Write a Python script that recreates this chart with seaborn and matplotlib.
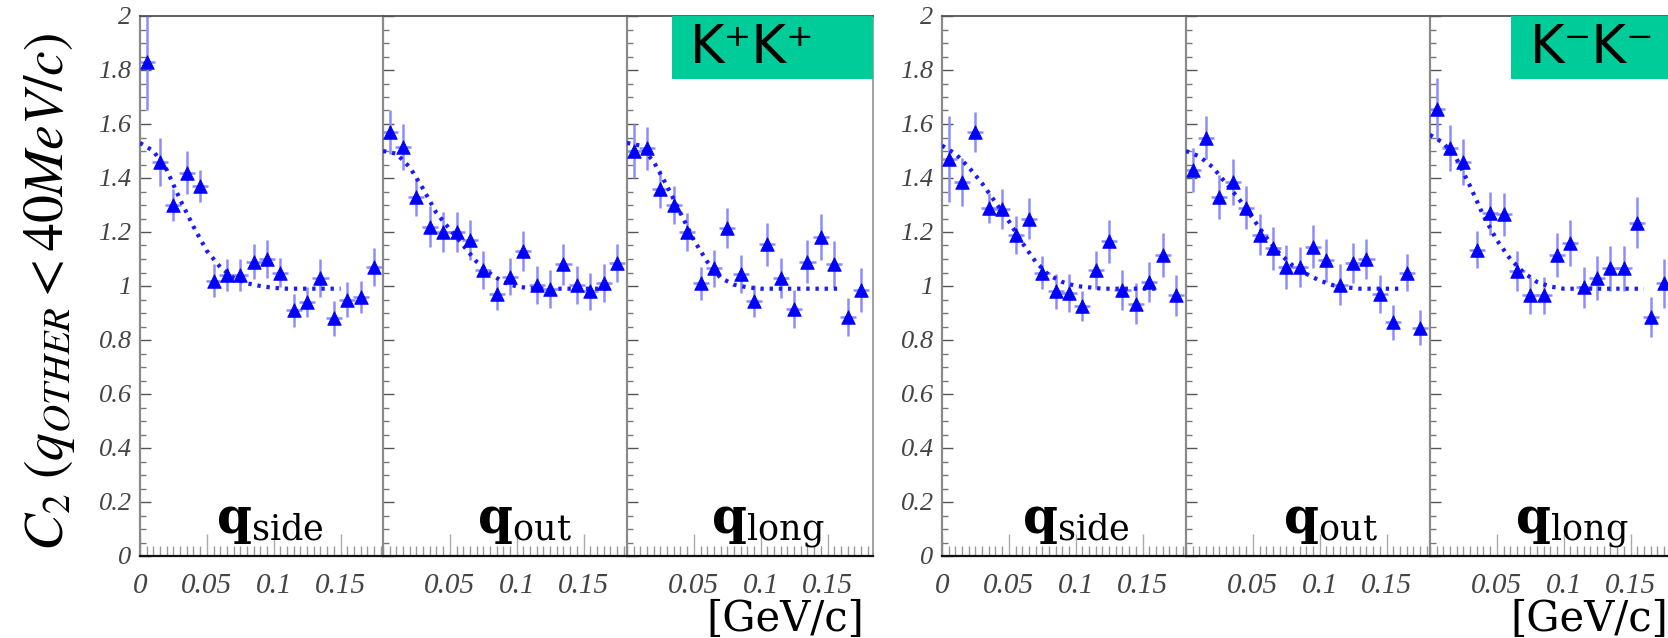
import matplotlib
matplotlib.use("Agg")
import matplotlib.pyplot as plt
import seaborn as sns
import pandas as pd
from matplotlib.patches import Rectangle
from matplotlib.ticker import MultipleLocator

sns.set_theme(style="white")
plt.rcParams["font.family"] = ["Liberation Serif", "DejaVu Serif"]

# ---------------- data ----------------
Q_BINS = [0.005, 0.015, 0.025, 0.035, 0.045, 0.055, 0.065, 0.075, 0.085,
          0.095, 0.105, 0.115, 0.125, 0.135, 0.145, 0.155, 0.165, 0.175]
FIT_Q = [0.00, 0.01, 0.02, 0.03, 0.04, 0.05, 0.06, 0.07, 0.08,
         0.09, 0.10, 0.11, 0.12, 0.13, 0.14, 0.15, 0.16, 0.17]

# K+K+
kp_side = [1.83, 1.46, 1.30, 1.42, 1.37, 1.02, 1.04, 1.04, 1.09,
           1.10, 1.05, 0.91, 0.94, 1.03, 0.88, 0.95, 0.96, 1.07]
kp_side_err = [0.18, 0.09, 0.06, 0.08, 0.06, 0.06, 0.06, 0.06, 0.065,
               0.07, 0.055, 0.06, 0.055, 0.07, 0.065, 0.065, 0.06, 0.07]
kp_side_fit = [1.53, 1.50, 1.43, 1.32, 1.22, 1.13, 1.07, 1.03, 1.01,
               1.00, 0.993, 0.99, 0.99, 0.99, 0.99, 0.99]

kp_out = [1.57, 1.515, 1.33, 1.22, 1.20, 1.20, 1.17, 1.06, 0.97,
          1.035, 1.13, 1.005, 0.99, 1.08, 1.005, 0.98, 1.01, 1.085]
kp_out_err = [0.08, 0.085, 0.07, 0.075, 0.075, 0.075, 0.075, 0.07, 0.06,
              0.07, 0.075, 0.07, 0.07, 0.075, 0.07, 0.07, 0.07, 0.07]
kp_out_fit = [1.50, 1.49, 1.44, 1.36, 1.27, 1.21, 1.15, 1.09, 1.047,
              1.014, 0.998, 0.992, 0.99, 0.99, 0.99, 0.99, 0.99, 0.99]

kp_long = [1.50, 1.51, 1.36, 1.30, 1.20, 1.01, 1.065, 1.215, 1.045,
           0.945, 1.155, 1.03, 0.915, 1.09, 1.18, 1.08, 0.885, 0.985]
kp_long_err = [0.10, 0.08, 0.07, 0.07, 0.07, 0.06, 0.07, 0.075, 0.07,
               0.06, 0.08, 0.075, 0.07, 0.08, 0.085, 0.085, 0.07, 0.08]
kp_long_fit = [1.53, 1.52, 1.46, 1.37, 1.27, 1.17, 1.09, 1.03, 1.005,
               0.995, 0.99, 0.99, 0.99, 0.99, 0.99, 0.99, 0.99]

# K-K-
km_side = [1.47, 1.385, 1.57, 1.29, 1.285, 1.19, 1.25, 1.05, 0.98,
           0.975, 0.925, 1.06, 1.165, 0.985, 0.935, 1.015, 1.115, 0.965]
km_side_err = [0.16, 0.09, 0.075, 0.055, 0.075, 0.07, 0.075, 0.06, 0.065,
               0.07, 0.055, 0.07, 0.08, 0.075, 0.075, 0.075, 0.08, 0.075]
km_side_fit = [1.52, 1.49, 1.44, 1.38, 1.31, 1.24, 1.16, 1.09, 1.04,
               1.015, 1.00, 0.995, 0.99, 0.99, 0.99, 0.99, 0.99]

km_out = [1.43, 1.55, 1.33, 1.385, 1.29, 1.19, 1.14, 1.07, 1.07,
          1.145, 1.095, 1.005, 1.085, 1.10, 0.97, 0.865, 1.05, 0.845]
km_out_err = [0.08, 0.08, 0.08, 0.085, 0.08, 0.075, 0.08, 0.08, 0.075,
              0.08, 0.08, 0.075, 0.075, 0.075, 0.07, 0.065, 0.07, 0.065]
km_out_fit = [1.50, 1.48, 1.44, 1.38, 1.32, 1.25, 1.18, 1.12, 1.075,
              1.045, 1.02, 1.003, 0.995, 0.99, 0.99, 0.99, 0.99]

km_long = [1.655, 1.51, 1.46, 1.135, 1.27, 1.265, 1.055, 0.965, 0.965,
           1.115, 1.16, 0.995, 1.03, 1.065, 1.065, 1.235, 0.885, 1.01]
km_long_err = [0.115, 0.085, 0.085, 0.07, 0.08, 0.08, 0.075, 0.07, 0.07,
               0.08, 0.085, 0.075, 0.08, 0.085, 0.085, 0.095, 0.075, 0.09]
km_long_fit = [1.56, 1.53, 1.47, 1.37, 1.26, 1.17, 1.10, 1.05, 1.015,
               0.998, 0.99, 0.99, 0.99, 0.99, 0.99, 0.99, 0.99]

COMPONENTS = ["side", "out", "long"]
GROUPS = ["K⁺K⁺", "K⁻K⁻"]
Y_TICKS = [0, 0.2, 0.4, 0.6, 0.8, 1, 1.2, 1.4, 1.6, 1.8, 2]

panels = [
    (kp_side, kp_side_err, kp_side_fit), (kp_out, kp_out_err, kp_out_fit),
    (kp_long, kp_long_err, kp_long_fit),
    (km_side, km_side_err, km_side_fit), (km_out, km_out_err, km_out_fit),
    (km_long, km_long_err, km_long_fit),
]

# ---------------- layout (pixels) ----------------
W, H = 1668, 638
TOP, BOT = 16, 556
PX_PER_UNIT = 1337.0
spans = [(140, 383), (383, 627), (627, 873), (942, 1186), (1186, 1430), (1430, 1674)]
label_x = [0.057, 0.070, 0.063, 0.060, 0.0725, 0.0636]

fig = plt.figure(figsize=(W / 100, H / 100), dpi=100)
fig.patch.set_facecolor("white")

MARK = "#0000ff"
ERR = "#8c8cff"
FIT = "#1a1aff"

for i, ((vals, errs, fit), (x0, x1)) in enumerate(zip(panels, spans)):
    ax = fig.add_axes([x0 / W, (H - BOT) / H, (x1 - x0) / W, (BOT - TOP) / H])
    ax.set_facecolor("none")
    first = (i % 3 == 0)
    last = (i % 3 == 2)

    ax.errorbar(Q_BINS, vals, yerr=errs, xerr=0.006, fmt="none", ecolor=ERR,
                elinewidth=1.8, capsize=0, zorder=2)
    fdf = pd.DataFrame({"q": FIT_Q[:len(fit)], "c2": fit})
    sns.lineplot(data=fdf, x="q", y="c2", ax=ax, color=FIT, lw=3.0,
                 linestyle=(0, (0.8, 1.4)), estimator=None, sort=False, zorder=3)
    ddf = pd.DataFrame({"q": Q_BINS, "c2": vals})
    sns.scatterplot(data=ddf, x="q", y="c2", ax=ax, marker="^", s=95,
                    color=MARK, edgecolor=MARK, linewidth=0.6, zorder=4)

    ax.set_xlim(0, (x1 - x0) / PX_PER_UNIT)
    ax.set_ylim(0, 2)
    ax.set_xlabel("")
    ax.set_ylabel("")

    # spines
    ax.spines["top"].set_color("#555555"); ax.spines["top"].set_linewidth(1.3)
    ax.spines["bottom"].set_color("#111111"); ax.spines["bottom"].set_linewidth(1.6)
    ax.spines["left"].set_color("#8a8a8a"); ax.spines["left"].set_linewidth(1.6)
    ax.spines["right"].set_visible(last)
    ax.spines["right"].set_color("#9a9a9a"); ax.spines["right"].set_linewidth(1.3)

    # y ticks
    ax.set_yticks(Y_TICKS, [f"{v:g}" for v in Y_TICKS], fontsize=19,
                  fontstyle="italic", color="#444444")
    ax.yaxis.set_minor_locator(MultipleLocator(0.05))
    ax.tick_params(axis="y", which="major", direction="in", length=8, width=1,
                   color="#555555", left=True, right=False, labelleft=first, pad=6)
    ax.tick_params(axis="y", which="minor", direction="in", length=4, width=1,
                   color="#777777", left=True, right=False)

    # x ticks
    xt = [0, 0.05, 0.1, 0.15] if first else [0.05, 0.1, 0.15]
    ax.set_xticks(xt, [f"{v:g}" for v in xt], fontsize=21,
                  fontstyle="italic", color="#444444")
    ax.xaxis.set_minor_locator(MultipleLocator(0.005))
    ax.tick_params(axis="x", which="major", direction="in", length=16, width=1,
                   color="#aaaaaa", bottom=True, top=False, pad=12)
    ax.tick_params(axis="x", which="minor", direction="in", length=7, width=1,
                   color="#999999", bottom=True, top=False)

    comp = COMPONENTS[i % 3]
    ax.text(label_x[i], 0.085, r"$\mathbf{q}_{\mathrm{" + comp + r"}}$",
            fontsize=36, math_fontfamily="dejavuserif", ha="left",
            va="baseline", color="black", zorder=5)

# axis title
fig.text(50 / W, 1 - 292 / H, r"$\mathit{C_{2}\ (q_{OTHER}{<}40MeV/c)}$",
         rotation=90, ha="center", va="center", fontsize=40,
         math_fontfamily="stix", color="black")

# units
for xr in (864, 1668):
    fig.text(xr / W, (H - 631) / H, "[GeV/c]", ha="right", va="baseline",
             fontsize=30, family="DejaVu Serif", color="black")

# group boxes
for (bx0, bx1, tx), name in zip([(672, 873, 690), (1511, 1690, 1530)], GROUPS):
    fig.patches.append(Rectangle((bx0 / W, (H - 79) / H), (bx1 - bx0) / W, 63 / H,
                                 transform=fig.transFigure, facecolor="#00CC99",
                                 edgecolor="none", zorder=5))
    fig.text(tx / W, (H - 48) / H, name, ha="left", va="center", fontsize=38,
             family=["DejaVu Sans"], color="black", zorder=6)

fig.savefig("out.png", dpi=100)
